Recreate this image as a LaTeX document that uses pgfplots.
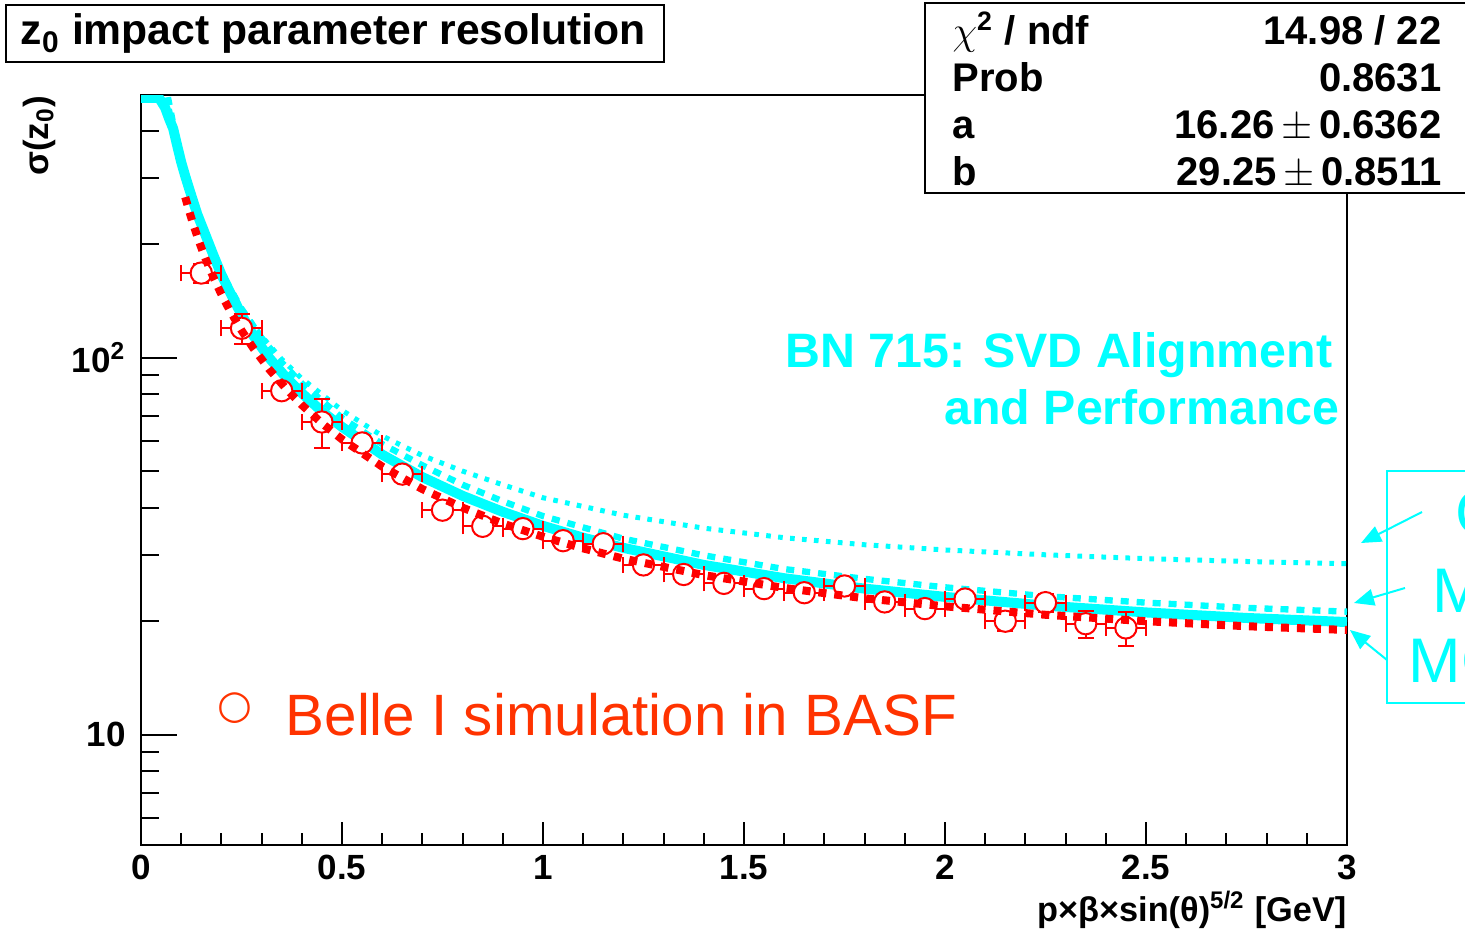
\documentclass[border=0pt]{standalone}
\usepackage{pgfplots}
\usepackage{pgfplotstable}
\pgfplotsset{compat=1.18}
\usepackage{fontspec}
\setmainfont{Liberation Sans}
\newfontfamily\djv{DejaVu Sans}
\usetikzlibrary{arrows.meta}
\definecolor{cy}{RGB}{0,255,255}
\definecolor{rd}{RGB}{255,0,0}
\definecolor{orr}{RGB}{255,51,0}
\def\P#1#2{({#1*0.3pt},{(931-#2)*0.3pt})}

\pgfplotstableread{
x y
0.0 488
0.045 488
0.06 460
0.07 430
0.08 405
0.09 365
0.10 330
0.11 303
0.12 280
0.14 240
0.16 212
0.18 187
0.20 166
0.22 150
0.25 130
0.28 114
0.32 99.5
0.36 88.8
0.40 80.5
0.45 72
0.50 65.5
0.60 55.3
0.70 48.2
0.80 43.0
0.90 39.0
1.00 35.8
1.10 33.3
1.20 31.3
1.40 28.2
1.60 26.0
1.80 24.4
2.00 23.2
2.25 22.0
2.50 21.1
2.75 20.4
3.00 19.9
}\cysolid

\pgfplotstableread{
x y
0.067 490
0.08 418
0.10 334.5
0.12 278.9
0.14 239.3
0.16 209.5
0.18 186.4
0.20 168
0.25 134.8
0.30 112.8
0.35 97.1
0.40 85.4
0.50 69.2
0.60 59.0
0.70 51.8
0.80 46.0
0.90 41.6
1.00 38.0
1.20 33.1
1.40 29.9
1.60 27.5
1.80 25.9
2.00 24.6
2.25 23.3
2.50 22.4
2.75 21.7
3.00 21.2
}\cydash

\pgfplotstableread{
x y
0.065 490
0.08 408
0.10 328
0.12 274
0.14 236
0.16 207
0.18 185
0.20 167
0.25 135
0.30 114
0.35 99
0.40 88
0.50 72.5
0.60 62.0
0.70 55.0
0.80 50.0
0.90 46.0
1.00 42.5
1.20 38.2
1.40 35.3
1.60 33.3
1.80 31.9
2.00 30.9
2.25 30.0
2.50 29.3
2.75 28.8
3.00 28.4
}\cydot

\pgfplotstableread{
x y
0.11 266.4
0.12 244.3
0.13 225.6
0.14 209.6
0.15 195.7
0.16 183.5
0.18 163.3
0.20 147.15
0.22 133.9
0.25 118.1
0.28 105.7
0.32 92.8
0.36 82.9
0.40 74.9
0.45 67.0
0.50 60.7
0.60 51.4
0.70 44.8
0.80 40.0
0.90 36.3
1.00 33.5
1.10 31.2
1.20 29.3
1.40 26.5
1.60 24.5
1.80 23.0
2.00 21.9
2.25 20.8
2.50 20.0
2.75 19.4
3.00 18.96
}\redfit

\pgfplotstableread{
x y ex ey
0.15 167.6 0.05 10
0.25 119.6 0.05 11
0.35 81.7 0.05 3
0.45 67.5 0.05 10
0.55 59.4 0.05 2
0.65 49.1 0.05 1.8
0.75 39.4 0.05 1.3
0.85 35.7 0.05 1.2
0.95 35.2 0.05 1.2
1.05 32.7 0.05 1.0
1.15 32.1 0.05 1.0
1.25 28.2 0.05 1.0
1.35 26.6 0.05 0.9
1.45 25.2 0.05 0.9
1.55 24.4 0.05 0.9
1.65 23.8 0.05 0.9
1.75 24.8 0.05 1.0
1.85 22.5 0.05 1.0
1.95 21.6 0.05 1.0
2.05 22.9 0.05 1.0
2.15 20.0 0.05 1.2
2.25 22.4 0.05 1.2
2.35 19.7 0.05 1.6
2.45 19.2 0.05 2.0
}\reddata

\begin{document}
\begin{tikzpicture}
\useasboundingbox (0,0) rectangle (439.5pt,279.3pt);
\clip (0,0) rectangle (439.5pt,279.3pt);
\fill[white] (0,0) rectangle (439.5pt,279.3pt);
\begin{axis}[
  at={(42.3pt,25.8pt)}, anchor=south west,
  width=361.8pt, height=225pt, scale only axis,
  xmin=0, xmax=3, ymode=log, ymin=5.1, ymax=497,
  axis line style={line width=0.6pt},
  every tick/.style={black, line width=0.6pt},
  xtick pos=left, ytick pos=left, tick align=inside,
  xtick={0,0.5,1,1.5,2,2.5,3},
  xticklabels={0,0.5,1,1.5,2,2.5,3},
  minor xtick={0.1,0.2,0.3,0.4,0.6,0.7,0.8,0.9,1.1,1.2,1.3,1.4,1.6,1.7,1.8,1.9,2.1,2.2,2.3,2.4,2.6,2.7,2.8,2.9},
  ytick={10,100},
  yticklabels={10,10\textsuperscript{2}},
  minor ytick={6,7,8,9,20,30,40,50,60,70,80,90,200,300,400},
  x tick style={/pgfplots/major tick length=6.9pt,/pgfplots/minor tick length=3.6pt},
  y tick style={/pgfplots/major tick length=10.8pt,/pgfplots/minor tick length=5.4pt},
  tick label style={font=\bfseries\fontsize{10.5}{12}\selectfont},
  xticklabel style={yshift=0.5pt},
  yticklabel style={xshift=-1pt},
  clip mode=individual,
]
\addplot[cy, line width=3pt] table[x=x,y=y] {\cysolid};
\addplot[cy, line width=1.9pt, dash pattern=on 2.4pt off 2.4pt] table[x=x,y=y] {\cydash};
\addplot[cy, line width=1.5pt, dash pattern=on 1.4pt off 2.2pt] table[x=x,y=y] {\cydot};
\addplot[rd, only marks, mark=*, mark size=3.2pt, mark options={line width=0.6pt, draw=rd, fill=white},
  error bars/.cd, x dir=both, x explicit, y dir=both, y explicit,
  error mark=|,
  error bar style={line width=0.6pt, rd},
  error mark options={rd, mark size=2.4pt, line width=0.6pt}]
  table[x=x,y=y,x error=ex,y error=ey] {\reddata};
\addplot[rd, line width=2.4pt, dash pattern=on 2.4pt off 2.4pt] table[x=x,y=y] {\redfit};
\end{axis}

% title box
\draw[line width=0.6pt, fill=white] \P{6}{5} rectangle \P{664}{62};
\node[anchor=base west, inner sep=0pt, font=\bfseries\fontsize{12.8}{15}\selectfont] at \P{20}{45} {z\textsubscript{0} impact parameter resolution};

% stats box
\draw[line width=0.6pt, fill=white] \P{925}{3} rectangle \P{1475}{193};
\begin{scope}[every node/.style={inner sep=0pt, font=\bfseries\fontsize{12}{14}\selectfont}]
\node[anchor=base west] at \P{952}{45} {$\chi^{\mathbf{2}}$ / ndf};
\node[anchor=base east] at \P{1442}{45} {14.98 / 22};
\node[anchor=base west] at \P{952}{92} {Prob};
\node[anchor=base east] at \P{1442}{92} {0.8631};
\node[anchor=base west] at \P{952}{139} {a};
\node[anchor=base east] at \P{1442}{139} {16.26\,$\pm$\,0.6362};
\node[anchor=base west] at \P{952}{186} {b};
\node[anchor=base east] at \P{1442}{186} {29.25\,$\pm$\,0.8511};
\end{scope}

% axis labels
\node[anchor=base east, inner sep=0pt, font=\bfseries\fontsize{10.3}{12}\selectfont] at \P{1347}{921} {p×β×sin(θ)\textsuperscript{5/2} [GeV]};
\node[anchor=base east, rotate=90, inner sep=0pt, font=\bfseries\fontsize{10.5}{12}\selectfont] at \P{48}{95} {σ(z\textsubscript{0})};

% annotations
\node[anchor=base east, inner sep=0pt, text=cy, font=\bfseries\fontsize{14.5}{17}\selectfont] at \P{1333}{368} {BN 715: SVD Alignment};
\node[anchor=base east, inner sep=0pt, text=cy, font=\bfseries\fontsize{14.5}{17}\selectfont] at \P{1340}{425} {and Performance};
\node[anchor=base west, inner sep=0pt, text=orr, font=\fontsize{17.5}{20}\selectfont] at \P{285}{735} {Belle I simulation in BASF};
\node[anchor=center, inner sep=0pt, text=orr, font=\djv\fontsize{12}{14}\selectfont] at \P{235}{708} {○};

% partial right box
\draw[cy, line width=0.6pt] \P{1387}{471} rectangle \P{1500}{703};
\begin{scope}[every node/.style={anchor=base west, inner sep=0pt, text=cy, font=\fontsize{18.9}{22}\selectfont}]
\node at \P{1455}{535} {C};
\node at \P{1432}{612} {M};
\node at \P{1408}{682} {MC};
\end{scope}
\draw[cy, line width=0.6pt, -{Triangle[length=6pt,width=5pt]}] \P{1422}{512} -- \P{1361}{543};
\draw[cy, line width=0.6pt, -{Triangle[length=6pt,width=5pt]}] \P{1405}{588} -- \P{1354}{603};
\draw[cy, line width=0.6pt, -{Triangle[length=6pt,width=5pt]}] \P{1387}{660} -- \P{1350}{630};
\end{tikzpicture}
\end{document}
